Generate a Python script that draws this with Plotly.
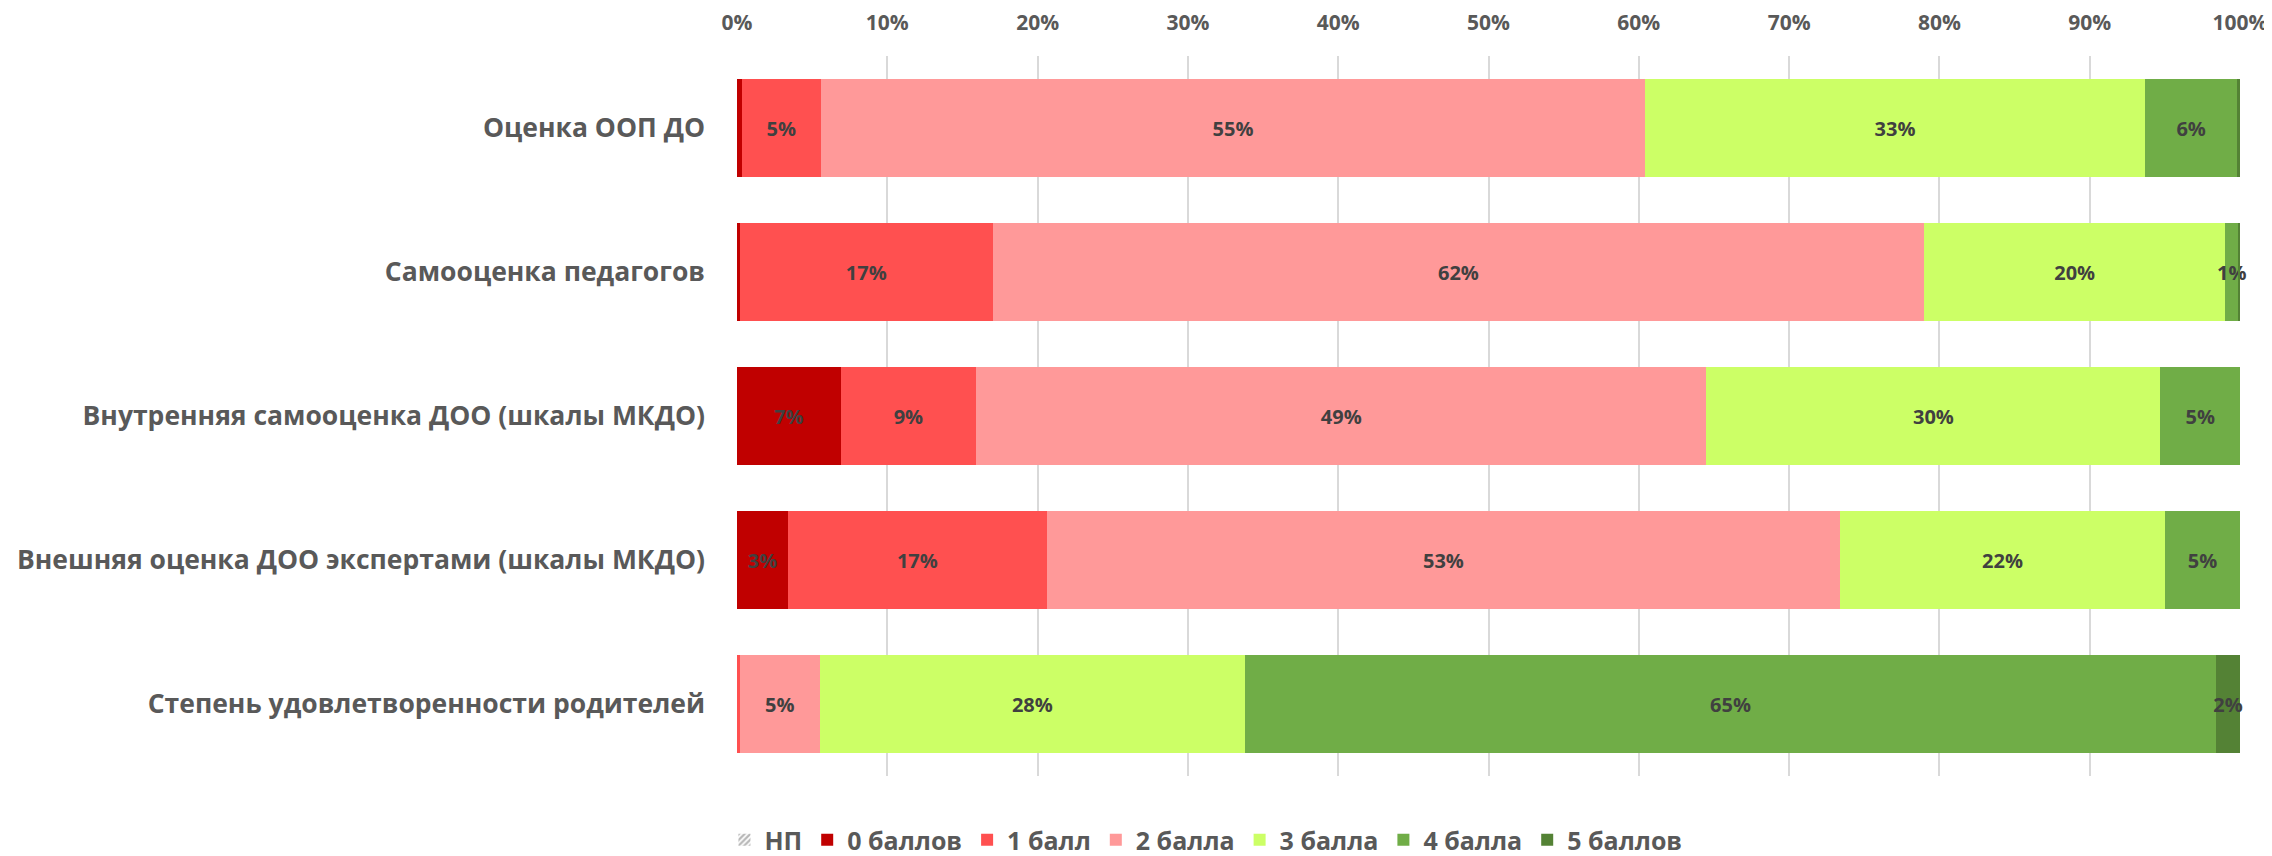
import plotly.graph_objects as go

categories = [
    "Оценка ООП ДО",
    "Самооценка педагогов",
    "Внутренняя самооценка ДОО (шкалы МКДО)",
    "Внешняя оценка ДОО экспертами (шкалы МКДО)",
    "Степень удовлетворенности родителей",
]

# shares in percent, one list per score level
np_share = [0.0, 0.0, 0.0, 0.0, 0.0]
score_0 = [0.3, 0.2, 6.9, 3.4, 0.0]
score_1 = [5.3, 16.8, 9.0, 17.2, 0.2]
score_2 = [54.8, 62.0, 48.6, 52.8, 5.3]
score_3 = [33.3, 20.0, 30.2, 21.6, 28.3]
score_4 = [6.1, 0.9, 5.3, 5.0, 64.6]
score_5 = [0.2, 0.1, 0.0, 0.0, 1.6]

series_names = ["НП", "0 баллов", "1 балл", "2 балла", "3 балла", "4 балла", "5 баллов"]
series_values = [np_share, score_0, score_1, score_2, score_3, score_4, score_5]
series_colors = ["#FFFFFF", "#C00000", "#FF5050", "#FF9999", "#CCFF66", "#70AD47", "#548235"]

tick_vals = [0, 10, 20, 30, 40, 50, 60, 70, 80, 90, 100]
tick_text = [f"{v}%" for v in tick_vals]

fig = go.Figure()

for name, vals, color in zip(series_names, series_values, series_colors):
    labels = [f"{round(v)}%" if v >= 0.5 else "" for v in vals]
    if name == "НП":
        marker = dict(
            color="#FFFFFF",
            pattern=dict(shape="/", fgcolor="#6F6F6F", bgcolor="#FFFFFF", size=5, solidity=0.55),
            line=dict(width=0),
        )
    else:
        marker = dict(color=color, line=dict(width=0))
    fig.add_trace(
        go.Bar(
            name=name,
            y=categories,
            x=vals,
            orientation="h",
            marker=marker,
            text=labels,
            textposition="inside",
            insidetextanchor="middle",
            textangle=0,
            constraintext="none",
            cliponaxis=False,
            textfont=dict(family="Open Sans", size=20, color="#404040", weight="bold"),
            hovertemplate="%{y}<br>" + name + ": %{x:.1f}%<extra></extra>",
        )
    )

# the page body adds an 8px offset, so the figure is a bit smaller than the window
fig.update_layout(
    barmode="stack",
    bargap=0.32,
    width=2264,
    height=848,
    margin=dict(l=729, r=32, t=48, b=80, autoexpand=False),
    plot_bgcolor="white",
    paper_bgcolor="white",
    font=dict(family="Open Sans", color="#595959"),
    legend=dict(
        orientation="h",
        x=0.312,
        xanchor="center",
        y=-0.089,
        yanchor="middle",
        font=dict(size=25, color="#595959", weight="bold"),
        traceorder="normal",
    ),
)

fig.update_xaxes(
    side="top",
    range=[0, 100],
    tickvals=tick_vals,
    ticktext=tick_text,
    tickfont=dict(size=21, color="#595959", weight="bold"),
    ticklabelstandoff=21,
    showgrid=True,
    gridcolor="#D9D9D9",
    gridwidth=2,
    zeroline=False,
    showline=False,
    fixedrange=True,
)

fig.update_yaxes(
    autorange="reversed",
    tickfont=dict(size=26.5, color="#595959", weight="bold"),
    ticklabelstandoff=31,
    showgrid=False,
    showline=False,
    ticks="",
)

fig.write_html("out.html")
